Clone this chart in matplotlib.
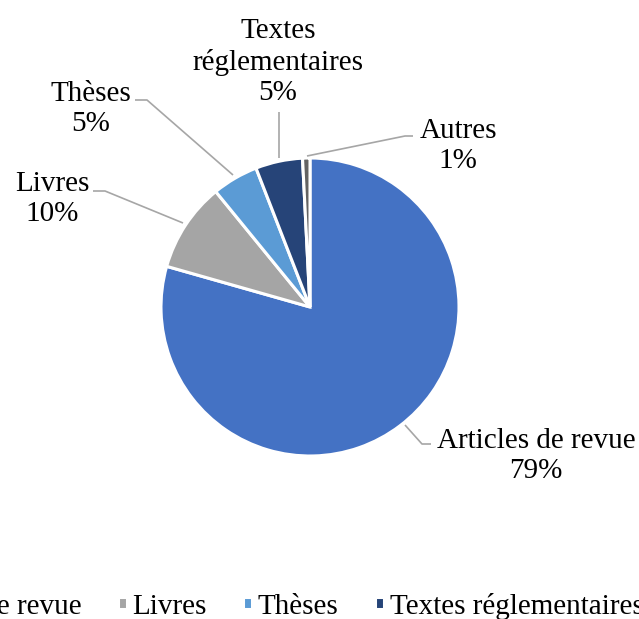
import matplotlib.pyplot as plt

# data
categories = ['Articles de revue', 'Livres', 'Thèses', 'Textes réglementaires', 'Autres']
values = [79.4, 9.7, 5.0, 5.1, 0.8]
colors = ['#4472C4', '#A5A5A5', '#5B9BD5', '#264478', '#636363']

plt.rcParams['font.family'] = ['Liberation Serif', 'DejaVu Serif']

W, H = 639, 619
fig = plt.figure(figsize=(W / 100, H / 100), dpi=100)
ax = fig.add_axes([0, 0, 1, 1])


def px(x, y):
    # top-left pixel coords -> axes data coords
    return x, H - y


wedges, _ = ax.pie(values, colors=colors, startangle=90, counterclock=False,
                   center=px(310, 307), radius=149,
                   wedgeprops=dict(edgecolor='white', linewidth=2.2))
# pie resets the limits, so set them afterwards
ax.set_xlim(0, W)
ax.set_ylim(0, H)
ax.set_aspect('equal')
ax.axis('off')

total = sum(values)
pct = [f"{round(v / total * 100)}%" for v in values]

# label block centres and leader lines (pixel coords)
label_pos = [(536, 456), (52, 199), (91, 109), (278, 62), (458, 146)]
label_txt = [categories[0], categories[1], categories[2], 'Textes\nréglementaires', categories[4]]
leaders = [
    [(405, 425), (422, 444), (431, 444)],
    [(183, 223), (105, 191), (93, 191)],
    [(233, 175), (147, 100), (135, 100)],
    [(279, 158), (279, 112)],
    [(307, 156), (405, 136), (413, 136)],
]

for (lx, ly), t, p, line in zip(label_pos, label_txt, pct, leaders):
    xs, ys = zip(*[px(a, b) for a, b in line])
    ax.plot(xs, ys, color='#A6A6A6', lw=1.2, solid_capstyle='butt')
    ax.text(*px(lx, ly), f"{t}\n{p}", ha='center', va='center',
            fontsize=21, linespacing=1.22, color='black')

ax.legend(wedges, categories, loc='center', bbox_to_anchor=px(320, 606),
          bbox_transform=ax.transData, ncol=5, frameon=False, fontsize=21,
          handlelength=0.3, handleheight=0.3, handletextpad=0.2,
          columnspacing=1.25, borderaxespad=0, borderpad=0)

fig.savefig('out.png', dpi=100)
